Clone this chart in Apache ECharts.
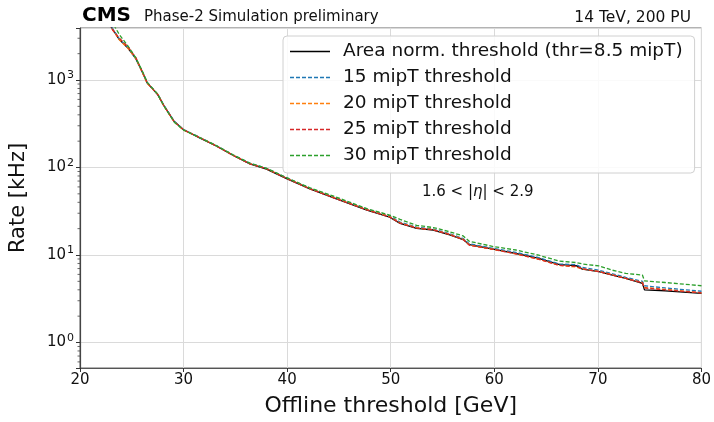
<!DOCTYPE html>
<html>
<head>
<meta charset="utf-8">
<script src="https://cdn.jsdelivr.net/npm/echarts@6/dist/echarts.min.js"></script>
<style>
  html, body { margin: 0; padding: 0; background: #fff; }
  #chart { width: 714px; height: 422px; }
</style>
</head>
<body>
<div id="chart"></div>
<script>
// Offline threshold points [GeV]
const thresholds = [22.5, 23.1, 23.8, 24.6, 25.4, 26.0, 26.5, 27.5, 28.1, 29.1, 30.0, 31.6, 33.2, 34.8, 36.4, 38.0, 40.0, 42.2, 44.5, 47.7, 49.9, 50.9, 52.5, 54.1, 55.7, 57.0, 57.6, 59.9, 62.1, 64.2, 66.3, 67.9, 68.5, 70.1, 71.4, 72.7, 74.3, 74.5, 76.5, 80.0];

// Trigger rates [kHz]
const rateAreaNorm = [5200, 3900, 2900, 2340, 1740, 1240, 920, 680, 510, 335, 270, 217, 175, 137, 110, 96, 74, 57, 45, 32.5, 27, 23, 20.2, 19.3, 17, 15, 13.1, 11.7, 10.4, 9.2, 7.75, 7.55, 6.9, 6.45, 5.9, 5.4, 4.75, 4.0, 3.9, 3.65];
const rate15 = [5300, 3950, 2950, 2360, 1760, 1250, 930, 690, 515, 338, 272, 220, 177, 139, 112, 98, 76, 58, 46, 33.5, 28, 23.8, 20.8, 19.8, 17.5, 15.4, 13.4, 11.9, 10.7, 9.4, 7.9, 7.75, 7.2, 6.7, 6.1, 5.55, 5.0, 4.45, 4.2, 3.85];
const rate20 = [5100, 3850, 2880, 2320, 1760, 1230, 910, 690, 505, 332, 268, 219, 176, 138, 111, 97, 75, 57.5, 45.5, 33, 27.5, 23.3, 20.5, 19.5, 17.2, 15.1, 13.0, 11.6, 10.3, 9.0, 7.6, 7.3, 6.9, 6.5, 5.95, 5.4, 4.85, 4.25, 4.05, 3.7];
const rate25 = [5000, 3800, 3000, 2420, 1800, 1260, 925, 685, 508, 334, 269, 218, 175, 137, 110, 97, 74.5, 57, 45, 32.8, 27.2, 23.1, 20.3, 19.4, 17.1, 15.0, 12.9, 11.6, 10.3, 9.0, 7.6, 7.4, 6.95, 6.45, 5.9, 5.4, 4.8, 4.2, 4.0, 3.7];
const rate30 = [6500, 4600, 3300, 2480, 1780, 1280, 940, 690, 505, 330, 268, 218, 177, 139, 112, 98, 76, 58.5, 47, 33.8, 28.6, 25.5, 21.8, 20.6, 18.4, 16.5, 14.3, 12.5, 11.4, 10.0, 8.5, 8.2, 7.9, 7.5, 6.7, 6.15, 5.9, 5.05, 4.85, 4.45];

const seriesNames = ['Area norm. threshold (thr=8.5 mipT)', '15 mipT threshold', '20 mipT threshold', '25 mipT threshold', '30 mipT threshold'];

// Minor log ticks on the rate axis
const minorTickValues = [0.6, 0.7, 0.8, 0.9, 2, 3, 4, 5, 6, 7, 8, 9, 20, 30, 40, 50, 60, 70, 80, 90, 200, 300, 400, 500, 600, 700, 800, 900, 2000, 3000];

const FONT = 'DejaVu Sans';
const colors = ['#000000', '#1f77b4', '#ff7f0e', '#d62728', '#2ca02c'];
const rates = [rateAreaNorm, rate15, rate20, rate25, rate30];

// Legend glyphs: a solid bar and a dashed bar (4 on, 2 off)
const SOLID_ICON = 'path://M0,0h40v1.5h-40z';
const DASHED_ICON = 'path://M0,0h4v1.6h-4zM6,0h4v1.6h-4zM12,0h4v1.6h-4zM18,0h4v1.6h-4zM24,0h4v1.6h-4zM30,0h4v1.6h-4zM36,0h4v1.6h-4z';

const toPairs = (ys) => thresholds.map((x, i) => [x, ys[i]]);

const lineSeries = rates.map((ys, k) => ({
  name: seriesNames[k],
  type: 'line',
  data: toPairs(ys),
  symbol: 'none',
  showSymbol: false,
  clip: true,
  color: colors[k],
  lineStyle: {
    color: colors[k],
    width: k === 0 ? 1.3 : 1.3,
    type: k === 0 ? 'solid' : [4, 2]
  },
  z: 3 + k
}));

const minorTicks = {
  type: 'custom',
  name: 'minor ticks',
  silent: true,
  clip: false,
  data: minorTickValues.map(v => [20, v]),
  renderItem: function (params, api) {
    const p = api.coord([api.value(0), api.value(1)]);
    return {
      type: 'line',
      shape: { x1: p[0] - 2.5, y1: p[1], x2: p[0], y2: p[1] },
      style: { stroke: '#444', lineWidth: 0.8 }
    };
  },
  z: 10
};

const chart = echarts.init(document.getElementById('chart'), null, { renderer: 'canvas' });

chart.setOption({
  animation: false,
  backgroundColor: '#fff',
  textStyle: { fontFamily: FONT },
  grid: {
    left: 79, right: 11, top: 28, bottom: 43,
    show: true, borderColor: '#666', borderWidth: 1, backgroundColor: 'transparent'
  },
  xAxis: {
    type: 'value',
    min: 20, max: 80, interval: 10,
    name: 'Offline threshold [GeV]',
    nameLocation: 'middle',
    nameGap: 27,
    nameTextStyle: { fontSize: 22, color: '#111', fontFamily: FONT },
    axisLine: { show: true, lineStyle: { color: '#555', width: 1.2 } },
    axisTick: { show: true, length: 4, lineStyle: { color: '#333' } },
    axisLabel: { fontSize: 15, color: '#111', margin: 5, fontFamily: FONT },
    splitLine: { show: true, lineStyle: { color: '#dadada', width: 1 } }
  },
  yAxis: {
    type: 'log',
    logBase: 10,
    min: 0.511, max: 3930,
    name: 'Rate [kHz]',
    nameLocation: 'middle',
    nameGap: 51,
    nameTextStyle: { fontSize: 21, color: '#111', fontFamily: FONT },
    axisLine: { show: true, lineStyle: { color: '#444', width: 1.2 } },
    axisTick: { show: true, length: 4, lineStyle: { color: '#333' } },
    axisLabel: {
      margin: 6,
      color: '#111',
      fontFamily: FONT,
      formatter: function (v) {
        const e = Math.log10(v);
        const n = Math.round(e);
        if (Math.abs(e - n) > 1e-6) return '';
        return '{b|10}{s|' + n + '}';
      },
      rich: {
        b: { fontSize: 15, color: '#111', fontFamily: FONT },
        s: { fontSize: 11, color: '#111', fontFamily: FONT, verticalAlign: 'top', padding: [0, 0, 9, 1] }
      }
    },
    splitLine: { show: true, lineStyle: { color: '#dadada', width: 1 } }
  },
  legend: {
    orient: 'vertical',
    left: 283,
    top: 36,
    padding: [6, 12, 8, 7],
    itemWidth: 40,
    itemHeight: 14,
    itemGap: 7,
    symbolKeepAspect: true,
    backgroundColor: 'rgba(255,255,255,0.85)',
    borderColor: '#d0d0d0',
    borderWidth: 1,
    borderRadius: 4,
    data: seriesNames.map((name, k) => ({
      name: name,
      icon: k === 0 ? SOLID_ICON : DASHED_ICON,
      itemStyle: { color: colors[k], borderWidth: 0 }
    })),
    textStyle: { fontSize: 18.5, color: '#111', fontFamily: FONT, padding: [0, 0, 0, 8] }
  },
  graphic: [
    {
      type: 'text', left: 82, top: 6,
      style: { text: 'CMS', fontSize: 20, fontWeight: 'bold', fill: '#000', fontFamily: FONT }
    },
    {
      type: 'text', left: 144, top: 10,
      style: { text: 'Phase-2 Simulation preliminary', fontSize: 15, fill: '#111', fontFamily: FONT }
    },
    {
      type: 'text', right: 23, top: 10,
      style: { text: '14 TeV, 200 PU', fontSize: 15.5, fill: '#111', fontFamily: FONT }
    },
    {
      type: 'text', left: 422, top: 185, z: 20,
      style: {
        text: '1.6 < |{i|η}| < 2.9',
        fontSize: 15, fill: '#111', fontFamily: FONT,
        rich: { i: { fontSize: 15, fontStyle: 'italic', fill: '#111', fontFamily: FONT } }
      }
    }
  ],
  series: lineSeries.concat([minorTicks])
});
</script>
</body>
</html>
